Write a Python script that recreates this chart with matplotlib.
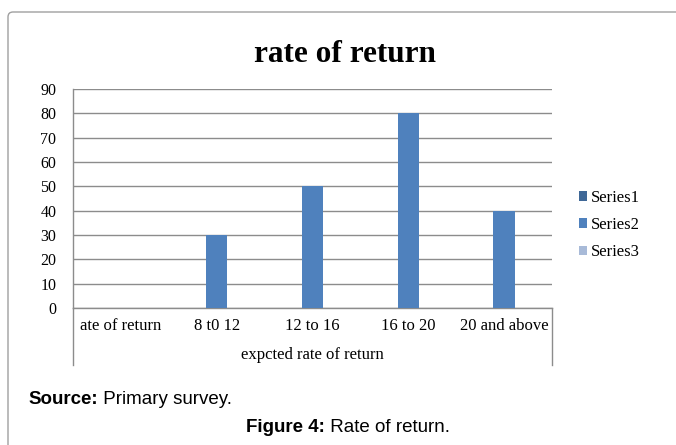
import matplotlib
matplotlib.use("Agg")
import matplotlib.pyplot as plt
from matplotlib.lines import Line2D
from matplotlib.patches import FancyBboxPatch

# datos del gráfico
categorias = ["ate of return", "8 t0 12", "12 to 16", "16 to 20", "20 and above"]
serie1 = [0, 0, 0, 0, 0]
serie2 = [0, 30, 50, 80, 40]
serie3 = [0, 0, 0, 0, 0]
nombres = ["Series1", "Series2", "Series3"]
colores = ["#3F6897", "#4F81BD", "#A8BAD8"]
yticks = list(range(0, 100, 10))

serif = ["Liberation Serif", "DejaVu Serif"]
sans = ["Liberation Sans", "DejaVu Sans"]

fig = plt.figure(figsize=(6.76, 4.45), dpi=100)
W, H = 676, 445

# marco exterior con esquina redondeada
marco = FancyBboxPatch((8 / 100, -0.5), 8.0, (H - 12) / 100 + 0.5,
                       boxstyle="round,pad=0,rounding_size=0.05",
                       transform=fig.dpi_scale_trans, facecolor="none",
                       edgecolor="#a0a0a0", linewidth=1.0)
fig.add_artist(marco)

ax = fig.add_axes([73 / W, 1 - 308 / H, (552 - 73) / W, (308 - 89) / H])

x = list(range(len(categorias)))
ancho = 1 / 4.5
for i, (vals, nombre, color) in enumerate(zip([serie1, serie2, serie3], nombres, colores)):
    ax.bar([p + (i - 1) * ancho for p in x], vals, width=ancho, color=color,
           label=nombre, zorder=3)

ax.set_xlim(-0.5, len(categorias) - 0.5)
ax.set_ylim(0, 90)
ax.set_yticks(yticks)
ax.set_yticklabels([str(v) for v in yticks], family=serif, fontsize=11.5)
ax.set_xticks(x)
ax.set_xticklabels(categorias, family=serif, fontsize=12)
ax.tick_params(axis="y", length=0, pad=12)
ax.tick_params(axis="x", length=0, pad=7)
ax.grid(True, axis="y", color="#8c8c8c", linewidth=1.0, zorder=0)

for lado in ["top", "right"]:
    ax.spines[lado].set_visible(False)
for lado in ["left", "bottom"]:
    ax.spines[lado].set_color("#8c8c8c")
    ax.spines[lado].set_linewidth(1.0)

# caja del eje de categorías
abajo = -(365 - 308) / (308 - 89)
for xx in [0, 1]:
    ax.add_line(Line2D([xx, xx], [0, abajo], transform=ax.transAxes,
                       color="#8c8c8c", linewidth=1.0, clip_on=False))

ax.text(0.5, -(355 - 308) / (308 - 89), "expcted rate of return",
        transform=ax.transAxes, ha="center", va="center",
        family=serif, fontsize=12)

fig.text(345 / W, 1 - 55 / H, "rate of return", ha="center", va="center",
         family=serif, fontsize=22.5, fontweight="bold")

leg = ax.legend(loc="center left", bbox_to_anchor=((579 - 73) / 479, (308 - 225) / 219),
                frameon=False, borderaxespad=0, borderpad=0,
                prop={"family": serif, "size": 12}, handlelength=0.5,
                handleheight=0.5, handletextpad=0.2, labelspacing=0.68)

# notas al pie
t1 = fig.text(28 / W, 1 - 400 / H, "Source:", ha="left", va="center",
              family=sans, fontsize=13.5, fontweight="bold")
ax.annotate(" Primary survey.", xy=(1, 0), xycoords=t1, ha="left", va="bottom",
            family=sans, fontsize=13.5, annotation_clip=False)
t2 = fig.text(246 / W, 1 - 427 / H, "Figure 4:", ha="left", va="center",
              family=sans, fontsize=13.5, fontweight="bold")
ax.annotate(" Rate of return.", xy=(1, 0), xycoords=t2, ha="left", va="bottom",
            family=sans, fontsize=13.5, annotation_clip=False)

fig.savefig("out.png", dpi=100)
